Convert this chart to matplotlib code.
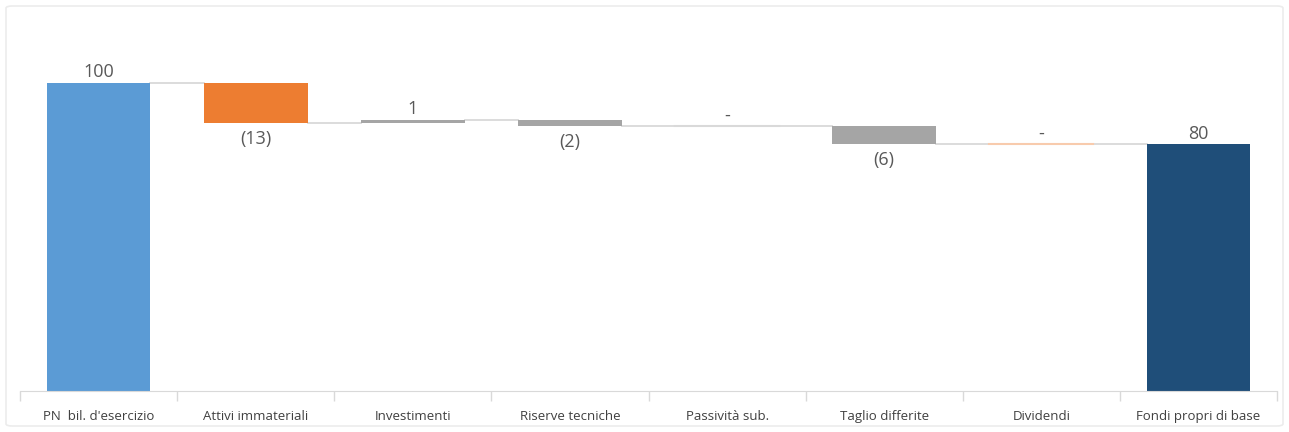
import matplotlib.pyplot as plt
from matplotlib.patches import FancyBboxPatch
import numpy as np

# dati del grafico a cascata
categorie = ["PN  bil. d'esercizio", "Attivi immateriali", "Investimenti", "Riserve tecniche",
             "Passività sub.", "Taglio differite", "Dividendi", "Fondi propri di base"]
valori = [100, -13, 1, -2, 0, -6, 0, 80]
totali = [True, False, False, False, False, False, False, True]
colori = ["#5b9bd5", "#ed7d31", "#a5a5a5", "#a5a5a5", "#d9d9d9", "#a5a5a5", "#f8cbad", "#1f4e79"]
etichette = ["100", "(13)", "1", "(2)", "-", "(6)", "-", "80"]

plt.rcParams['font.family'] = ['Open Sans', 'DejaVu Sans']

fig = plt.figure(figsize=(12.89, 4.32), dpi=100)
fig.patches.append(FancyBboxPatch((6 / 1289, 6 / 432), 1277 / 1289, 420 / 432,
                                  boxstyle="round,pad=0,rounding_size=0.005",
                                  transform=fig.transFigure, facecolor='white',
                                  edgecolor='#ececec', linewidth=1.2, zorder=-1))
ax = fig.add_axes([20 / 1289, 41 / 432, 1257 / 1289, 370 / 432])
ax.patch.set_alpha(0)

x = np.arange(len(categorie))
w = 0.66
cum = 0
fine = []
for i, v in enumerate(valori):
    if totali[i]:
        bottom, height = 0, v
        cum = v
    else:
        bottom = cum if v >= 0 else cum + v
        height = abs(v)
        cum = cum + v
    fine.append(cum)
    if height == 0:
        ax.plot([x[i] - w / 2, x[i] + w / 2], [bottom, bottom], color=colori[i], lw=1.5, zorder=2)
    else:
        ax.bar(x[i], height, w, bottom=bottom, color=colori[i], zorder=2)
    # etichetta
    if v < 0:
        ax.annotate(etichette[i], (x[i], bottom), xytext=(0, -5), textcoords='offset points',
                    ha='center', va='top', fontsize=13, color='#595959')
    else:
        ax.annotate(etichette[i], (x[i], bottom + height), xytext=(0, 1), textcoords='offset points',
                    ha='center', va='bottom', fontsize=13, color='#595959')

# linee di collegamento
for i in range(len(valori) - 1):
    ax.plot([x[i] + w / 2, x[i + 1] - w / 2], [fine[i], fine[i]], color='#d9d9d9', lw=1.3, zorder=1)

ax.set_xlim(-0.5, len(categorie) - 0.5)
ax.set_ylim(0, 120)
ax.set_yticks([])
ax.set_xticks(x)
ax.set_xticklabels(categorie, fontsize=9.5, color='#404040')
ax.set_xticks(np.arange(-0.5, len(categorie)), minor=True)
ax.tick_params(axis='x', which='major', length=0, pad=14)
ax.tick_params(axis='x', which='minor', length=7, color='#d9d9d9', width=1)
for s in ['top', 'right', 'left']:
    ax.spines[s].set_visible(False)
ax.spines['bottom'].set_color('#d9d9d9')

fig.savefig('out.png', dpi=100)
